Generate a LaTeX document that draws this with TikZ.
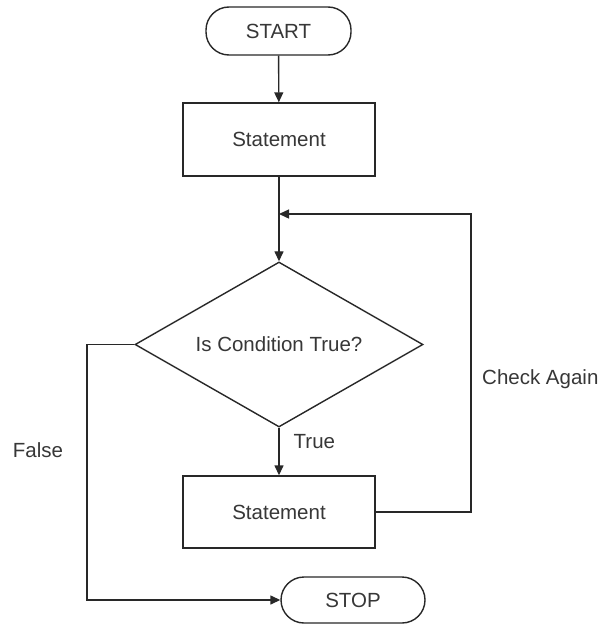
\documentclass[tikz,border=0pt]{standalone}
\usepackage{fontspec}
\setmainfont{Liberation Sans}
\usetikzlibrary{shapes.geometric,arrows.meta}
\definecolor{ink}{RGB}{40,40,40}
\definecolor{txt}{RGB}{55,55,55}
\begin{document}
\begin{tikzpicture}[x=1pt,y=-1pt,
  every node/.style={text=txt,font=\fontsize{20.5}{24}\selectfont},
  terminal/.style={draw=ink,line width=1.4pt,rectangle,rounded corners=23pt,inner sep=0pt},
  stmt/.style={draw=ink,line width=1.4pt,rectangle,minimum width=192pt,minimum height=73pt,inner sep=0pt},
  decision/.style={draw=ink,line width=1.4pt,diamond,aspect=1.745,minimum width=288pt,minimum height=165pt,inner sep=0pt},
  conn/.style={draw=ink,line width=1.4pt},
  arr/.style={conn,-{Triangle[length=10pt,width=9pt]}},
  lbl/.style={inner sep=0pt}]
\useasboundingbox (0,0) rectangle (603,626);
\fill[white] (0,0) rectangle (603,626);

\node[terminal,minimum width=145pt,minimum height=48pt] (start) at (278.5,31) {START};
\node[stmt] (s1) at (279,139.5) {Statement};
\node[decision] (cond) at (279,344.5) {Is Condition True?};
\node[stmt,minimum height=72pt] (s2) at (279,512) {Statement};
\node[terminal,minimum width=144pt,minimum height=46pt] (stop) at (353,600) {STOP};

\coordinate (ca) at (471,512);
\coordinate (ct) at (471,214);
\coordinate (cj) at (279,214);
\coordinate (fa) at (87,344.5);
\coordinate (fb) at (87,600);

\draw[arr] (start) -- (s1);
\draw[arr] (s1) -- (cond);
\draw[arr] (cond) -- node[lbl,pos=0.3,anchor=west,xshift=14pt]{True} (s2);
\draw[arr] (s2.east) -- (ca) -- (ct) -- (cj);
\draw[arr] (cond.west) -- (fa) -- (fb) -- (stop.west);

\node[lbl,anchor=west] (chk) at (482,379) {Check Again};
\node[lbl] (fls) at (38,450) {False};
\end{tikzpicture}
\end{document}
